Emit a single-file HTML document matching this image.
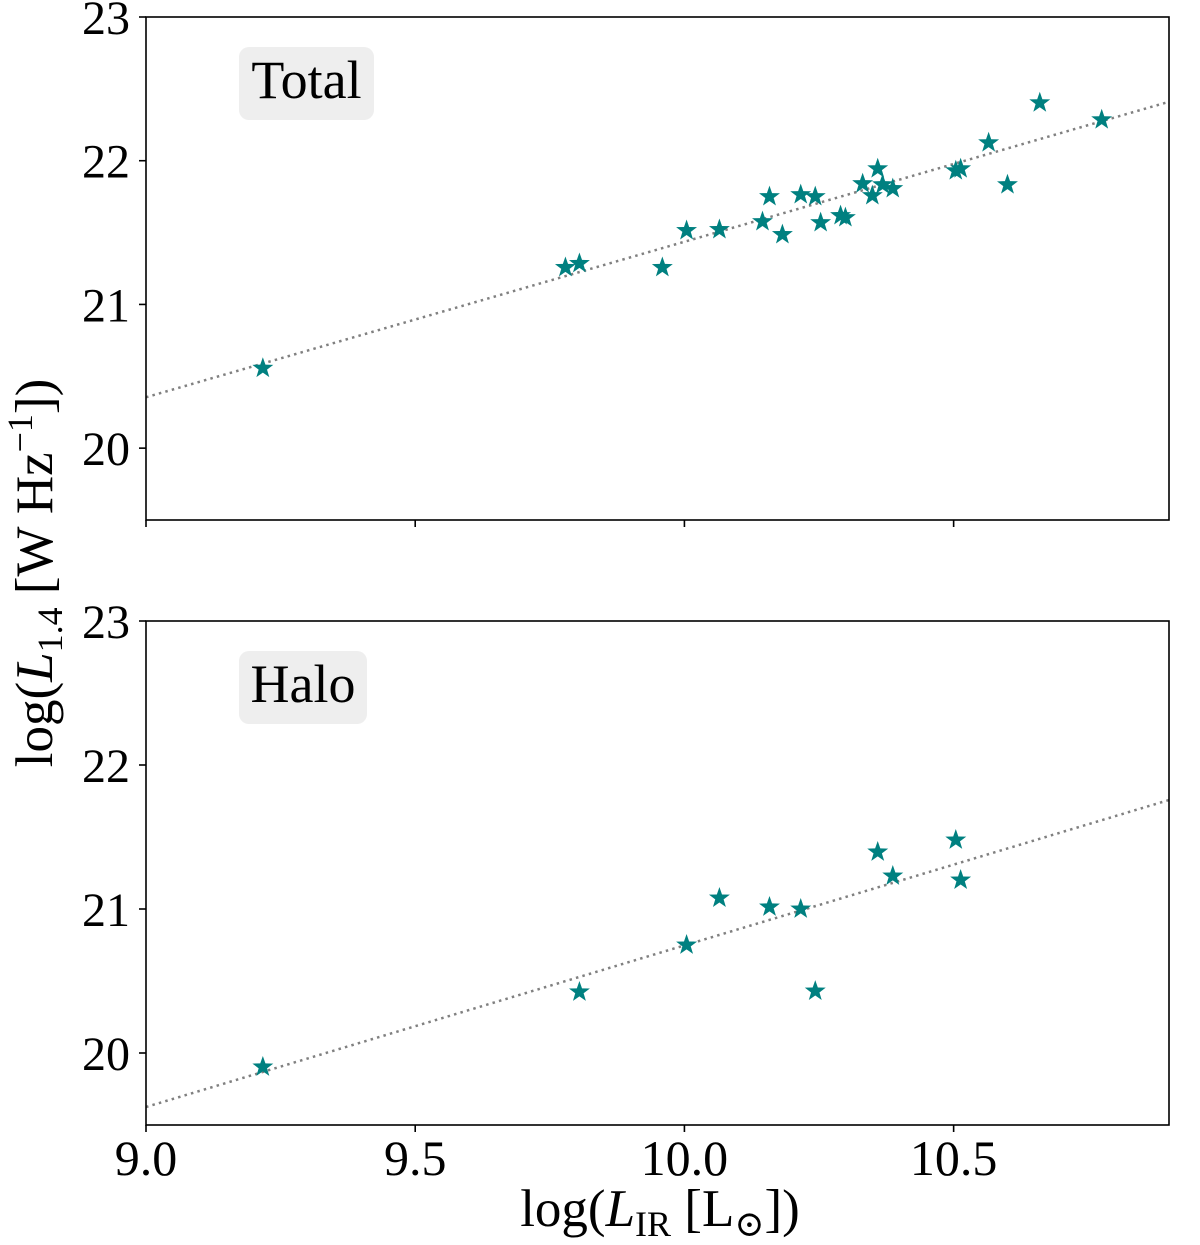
<!DOCTYPE html>
<html><head><meta charset="utf-8">
<style>
html,body{margin:0;padding:0;background:#fff;}
svg{display:block;font-family:"Liberation Serif","DejaVu Serif",serif;}
</style></head>
<body>
<svg id="chart" width="1200" height="1245" viewBox="0 0 1200 1245" xmlns="http://www.w3.org/2000/svg"></svg>
<script>
// ---- data ----
const totalX = [9.217,9.779,9.805,9.959,10.004,10.065,10.145,10.158,10.182,10.216,10.243,10.253,10.290,10.299,10.331,10.349,10.359,10.368,10.387,10.504,10.513,10.565,10.600,10.660,10.775];
const totalY = [20.556,21.257,21.285,21.257,21.514,21.521,21.576,21.750,21.486,21.764,21.750,21.569,21.618,21.604,21.840,21.757,21.944,21.833,21.806,21.930,21.944,22.125,21.833,22.403,22.285];
const haloX = [9.217,9.805,10.004,10.065,10.158,10.216,10.243,10.359,10.387,10.504,10.513];
const haloY = [19.903,20.424,20.750,21.076,21.014,21.000,20.430,21.396,21.229,21.479,21.201];
const totalFitX = [9.0,10.9];
const totalFitY = [20.354,22.41];
const haloFitX = [9.0,10.9];
const haloFitY = [19.625,21.757];
const xTicks = [9.0,9.5,10.0,10.5];
const xTickLabels = ["9.0","9.5","10.0","10.5"];
const yTicks = [20,21,22,23];
const yTickLabels = ["20","21","22","23"];

const NS="http://www.w3.org/2000/svg";
const svg=document.getElementById('chart');
function mk(tag,attrs,parent){const e=document.createElementNS(NS,tag);for(const k in attrs)e.setAttribute(k,attrs[k]);(parent||svg).appendChild(e);return e;}

const L=146,R=1169;
const xs=v=>L+(v-9.0)/(10.9-9.0)*(R-L);
function starPath(cx,cy,r){let d='';for(let i=0;i<10;i++){const rr=i%2?r*0.4:r;const a=-Math.PI/2+i*Math.PI/5;d+=(i?'L':'M')+(cx+rr*Math.cos(a)).toFixed(2)+','+(cy+rr*Math.sin(a)).toFixed(2);}return d+'Z';}

function panel(name,top,bottom,xv,yv,fx,fy,label,boxW,showXLabels){
  const g=mk('g',{});
  
  
  const ys=v=>top+(23-v)/(23-19.5)*(bottom-top);
  const ln=mk('line',{x1:xs(fx[0]),y1:ys(fy[0]),x2:xs(fx[1]),y2:ys(fy[1]),stroke:'#808080','stroke-width':2.5,'stroke-dasharray':'2.5,4.2'},g);
  
  
  for(let i=0;i<xv.length;i++){
    const p=mk('path',{d:starPath(xs(xv[i]),ys(yv[i]),11),fill:'#008080'},g);
    
    
  }
  const fr=mk('rect',{x:L,y:top,width:R-L,height:bottom-top,fill:'none',stroke:'#000','stroke-width':1.6},g);
  
  
  yTicks.forEach((t,i)=>{
    mk('line',{x1:L-7,x2:L,y1:ys(t),y2:ys(t),stroke:'#000','stroke-width':1.6},g);
    const tx=mk('text',{x:L-16,y:ys(t)+17,'text-anchor':'end','font-size':48},g);
    tx.textContent=yTickLabels[i];
    
    
  });
  xTicks.forEach((t,i)=>{
    mk('line',{x1:xs(t),x2:xs(t),y1:bottom,y2:bottom+7,stroke:'#000','stroke-width':1.6},g);
    if(showXLabels){
      const tx=mk('text',{x:xs(t),y:bottom+50,'text-anchor':'middle','font-size':50},g);
      tx.textContent=xTickLabels[i];
      
      
    }
  });
  const by=top+30;
  const bx=mk('rect',{x:239,y:by,width:boxW,height:73,rx:10,fill:'#eeeeee'},g);
  
  
  const lt=mk('text',{x:239+boxW/2,y:by+51,'text-anchor':'middle','font-size':54},g);
  lt.textContent=label;
  
  
}
panel('total',17,520,totalX,totalY,totalFitX,totalFitY,'Total',135,false);
panel('halo',621,1125,haloX,haloY,haloFitX,haloFitY,'Halo',128,true);

const xt=mk('text',{x:660,y:1226,'text-anchor':'middle','font-size':53});


xt.innerHTML='log(<tspan font-style="italic">L</tspan><tspan font-size="36" dy="10">IR</tspan><tspan dy="-10"> [L</tspan><tspan font-size="36" dy="10">⊙</tspan><tspan dy="-10">])</tspan>';
const yt=mk('text',{x:0,y:0,'text-anchor':'middle','font-size':53,transform:'translate(52,573) rotate(-90)'});


yt.innerHTML='log(<tspan font-style="italic">L</tspan><tspan font-size="36" dy="10">1.4</tspan><tspan dy="-10"> [W Hz</tspan><tspan font-size="36" dy="-20">−1</tspan><tspan dy="20">])</tspan>';
</script>
</body></html>
